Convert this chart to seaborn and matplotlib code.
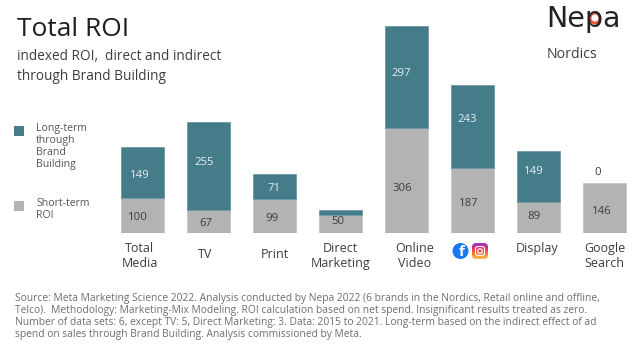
import numpy as np
import pandas as pd
import matplotlib.pyplot as plt
import seaborn as sns
from matplotlib.colors import LinearSegmentedColormap
from matplotlib.patches import Circle, FancyBboxPatch, Rectangle
from matplotlib.transforms import ScaledTranslation

# values
channels = ['Total\nMedia', 'TV', 'Print', 'Direct\nMarketing', 'Online\nVideo', '', 'Display', 'Google\nSearch']
short_term = [100, 67, 99, 50, 306, 187, 89, 146]
long_term = [149, 255, 71, 16, 297, 243, 149, 0]
long_labels = ['149', '255', '71', '', '297', '243', '149', '0']
short_labels = ['100', '67', '99', '50', '306', '187', '89', '146']

TEAL = '#457c8a'
GREY = '#b3b3b3'
DARK = '#3d3d3d'
W, H = 640, 351

sns.set_theme(style='white')
plt.rcParams['font.family'] = ['Open Sans', 'DejaVu Sans']

df = pd.DataFrame({'channel': channels, 'short': short_term, 'long': long_term})
df['slot'] = range(len(df))

fig = plt.figure(figsize=(6.4, 3.51), dpi=100)
ax = fig.add_axes([109.5 / W, (H - 232.5) / H, 528 / W, 222.5 / H])

sns.barplot(data=df, x='slot', y='short', color=GREY, width=0.65, saturation=1,
            edgecolor='#c4c4c4', linewidth=0.6, ax=ax)
n_before = len(ax.patches)
sns.barplot(data=df, x='slot', y='long', bottom=df['short'], color=TEAL, width=0.65,
            saturation=1, edgecolor='#6d99a4', linewidth=0.6, ax=ax)
# Google Search has no long-term part, hide its flat bar
for p in ax.patches[n_before:]:
    if p.get_height() == 0:
        p.set_visible(False)
ax.set_xlim(-0.5, 7.5)
ax.set_ylim(0, 650)
ax.set_xlabel('')
ax.set_ylabel('')
ax.set_yticks([])
sns.despine(ax=ax, left=True, bottom=True)

# tick labels, nudged like the slide
ax.set_xticks(range(len(channels)))
ax.set_xticklabels(channels, fontsize=9, color=DARK, linespacing=1.2)
nudge = [-3, -3, 0, 0, 8, 0, -1, 0]
pads = [1, 5, 5, 1, 1, 1, 1, 1]
for tick, dx, pad in zip(ax.xaxis.get_major_ticks(), nudge, pads):
    tick.set_pad(pad)
    tick.tick1line.set_visible(False)
    tick.label1.set_transform(tick.label1.get_transform() + ScaledTranslation(dx / 100, 0, fig.dpi_scale_trans))

# value labels, pixel offsets from the segment middle
short_dx = [-5, -3, -2, -3, -4, -4, -5, -3]
short_dy = [-2, -2, -3, 2, -8, -3, 1, -4]
long_dx = [-3, -4, 0, 0, -5, -5, -5, 0]
long_dy = [-3, 3, -2, 0, 3, 7, 5, 0]
for i in range(len(channels)):
    ax.annotate(short_labels[i], (i, short_term[i] / 2), xytext=(short_dx[i], short_dy[i]),
                textcoords='offset pixels', ha='center', va='center', fontsize=8.2, color=DARK)
    if long_term[i] > 0:
        ax.annotate(long_labels[i], (i, short_term[i] + long_term[i] / 2), xytext=(long_dx[i], long_dy[i]),
                    textcoords='offset pixels', ha='center', va='center', fontsize=8.2, color='#e4eef0')
ax.annotate(long_labels[7], (7, short_term[7]), xytext=(-7, 10), textcoords='offset pixels',
            ha='center', va='center', fontsize=8.2, color=DARK)

# full figure overlay in pixel coordinates for slide furniture
over = fig.add_axes([0, 0, 1, 1], zorder=5)
over.set_xlim(0, W)
over.set_ylim(H, 0)
over.axis('off')

over.text(17, 29, 'Total ROI', fontsize=19, color='#1e1e1e', va='center')
over.text(17, 57, 'indexed ROI,  direct and indirect', fontsize=9.8, color=DARK, va='center')
over.text(17, 76, 'through Brand Building', fontsize=9.8, color=DARK, va='center')

over.add_patch(Rectangle((14, 126), 9.5, 9.5, color=TEAL, lw=0))
over.add_patch(Rectangle((14, 201), 9.5, 9.5, color=GREY, lw=0))
for y, s in zip([128.5, 140.5, 152.5, 165], ['Long-term', 'through', 'Brand', 'Building']):
    over.text(36, y, s, fontsize=7.6, color='#555555', va='center')
for y, s in zip([204, 216], ['Short-term', 'ROI']):
    over.text(36, y, s, fontsize=7.6, color='#555555', va='center')

# logo
over.text(546, 27, 'Nepa', fontsize=20.5, color='#222222', va='baseline', family='DejaVu Sans')
over.add_patch(Circle((595, 18), 5, fill=False, ec='#f0532d', lw=2))
over.text(547, 54, 'Nordics', fontsize=10.2, color=DARK, va='center')

# facebook and instagram marks
over.add_patch(Circle((460.5, 251), 8, color='#1877f2', lw=0))
over.text(461.5, 252.5, 'f', fontsize=11, color='white', ha='center', va='center', fontweight='bold')
grad = np.linspace(0, 1, 20).reshape(-1, 1)
ig = LinearSegmentedColormap.from_list('ig', ['#a033c0', '#e1306c', '#f77737', '#fcc04a'])
img = over.imshow(grad, extent=(472, 488, 259, 243), cmap=ig, aspect='auto', zorder=3)
clip = FancyBboxPatch((473, 244), 14, 14, boxstyle='round,pad=1,rounding_size=4', transform=over.transData, fc='none', ec='none')
over.add_patch(clip)
img.set_clip_path(clip)
over.add_patch(FancyBboxPatch((475.5, 246.5), 9, 9, boxstyle='round,pad=0,rounding_size=2.5', fc='none', ec='white', lw=0.8, zorder=4))
over.add_patch(Circle((480, 251), 2.3, fill=False, ec='white', lw=0.8, zorder=4))
over.set_xlim(0, W)
over.set_ylim(H, 0)

footer = ['Source: Meta Marketing Science 2022. Analysis conducted by Nepa 2022 (6 brands in the Nordics, Retail online and offline,',
          'Telco).  Methodology: Marketing-Mix Modeling. ROI calculation based on net spend. Insignificant results treated as zero.',
          'Number of data sets: 6, except TV: 5, Direct Marketing: 3. Data: 2015 to 2021. Long-term based on the indirect effect of ad',
          'spend on sales through Brand Building. Analysis commissioned by Meta.']
for y, s in zip([299, 311, 323, 335], footer):
    over.text(15, y, s, fontsize=7.35, color='#6e6e6e', va='center')

fig.savefig('out.png', dpi=100)
